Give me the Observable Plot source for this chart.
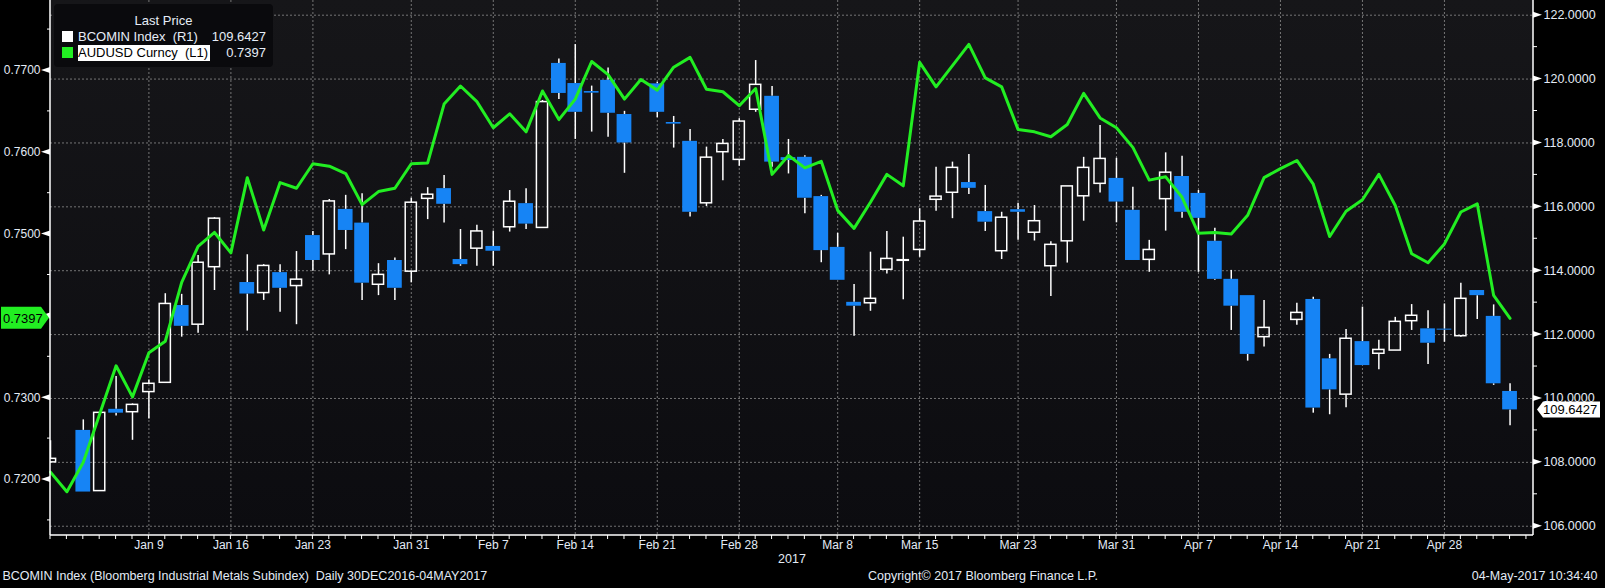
<!DOCTYPE html>
<html><head><meta charset="utf-8">
<script src="https://cdn.jsdelivr.net/npm/d3@7"></script>
<script src="https://cdn.jsdelivr.net/npm/@observablehq/plot@0.6"></script>
<style>
html,body{margin:0;padding:0;background:#000;}
#wrap{position:relative;width:1605px;height:588px;overflow:hidden;font-family:"Liberation Sans",Arial,sans-serif;}
#wrap svg{position:absolute;left:0;top:0;}
#legend{position:absolute;left:54px;top:4px;width:219px;height:63px;background:#0a0a0d;border-radius:4px;color:#e6edf7;font-size:13px;}
#legend .t{position:absolute;left:0;width:219px;top:9px;text-align:center;line-height:15px;}
#legend .sw{position:absolute;left:8px;width:11px;height:11px;}
#legend .nm{position:absolute;left:24px;line-height:16px;padding-right:2px;}
#legend .hl{background:#fff;color:#000;}
#legend .v{position:absolute;right:7px;line-height:16px;text-align:right;}
</style></head><body><div id="wrap"></div>
<script>
// ---- data ----
const firstDay = "2016-12-30", lastDay = "2017-05-04";
// BCOMIN Index daily OHLC (null = no trading)
const bcOpen  = [108.00,null,109.00,107.10,109.66,109.57,110.20,110.49,112.91,112.31,114.11,null,113.63,113.30,113.94,113.52,115.10,114.51,115.92,115.49,113.56,114.32,113.97,116.25,116.57,114.35,114.69,114.76,115.36,116.10,115.34,120.49,119.86,119.61,119.96,118.89,null,119.85,118.64,118.05,116.11,117.71,117.47,119.04,119.46,117.54,117.55,116.32,114.73,113.01,112.98,114.03,114.31,114.65,116.22,116.44,116.76,115.85,114.61,115.91,115.19,114.14,114.92,116.33,116.72,116.89,115.89,114.34,116.24,116.95,116.42,114.92,113.73,113.22,111.92,null,112.46,113.10,111.24,110.12,111.78,111.40,111.50,112.42,112.18,112.17,111.95,113.38,112.57,110.22];
const bcHigh  = [108.68,null,109.33,109.55,110.69,109.83,110.58,113.28,113.26,114.48,115.66,null,114.50,114.19,114.19,114.60,115.23,116.23,116.36,116.41,114.22,114.40,116.27,116.60,116.98,115.29,115.42,115.24,116.51,116.57,119.33,120.63,121.08,119.78,120.35,118.99,null,119.90,118.83,118.42,117.87,118.11,118.76,120.58,119.77,118.11,117.60,116.36,115.17,113.57,114.58,115.23,115.05,115.94,117.24,117.40,117.64,116.67,115.83,116.11,116.04,114.91,116.64,117.55,118.55,117.52,116.61,114.95,117.69,117.58,116.51,115.33,114.01,113.22,113.07,null,112.98,113.17,111.38,112.16,112.86,111.82,112.54,112.94,112.75,112.96,113.61,113.38,112.93,110.46];
const bcLow   = [107.98,null,107.07,107.10,109.45,108.69,109.36,110.49,111.92,112.04,113.38,null,112.11,113.07,112.70,112.31,113.98,113.87,114.66,113.07,113.22,113.07,113.62,115.60,115.49,114.14,114.14,114.14,115.21,115.29,115.34,119.36,118.11,118.34,118.18,117.05,null,118.79,117.84,115.68,116.01,116.82,117.27,118.96,117.24,117.03,115.78,114.25,113.70,111.95,112.73,113.90,113.09,114.42,115.86,115.63,116.39,115.23,114.35,114.95,114.93,113.19,114.24,115.55,116.43,115.50,114.32,113.95,115.24,115.64,113.95,113.70,112.13,111.17,111.61,null,112.29,109.54,109.49,109.71,111.03,110.90,111.50,112.13,111.06,111.76,111.92,112.47,110.41,109.15];
const bcClose = [108.11,null,107.07,109.55,109.54,109.80,110.46,112.96,112.26,114.25,115.63,null,113.27,114.15,113.45,113.72,114.32,116.17,115.26,113.61,113.87,113.45,116.13,116.38,116.08,114.19,115.23,114.61,116.16,115.46,119.28,119.55,118.96,119.56,118.93,118.00,null,118.96,118.59,115.83,117.54,117.97,118.67,119.82,117.40,117.45,116.27,114.63,113.70,112.89,113.12,114.37,114.33,115.54,116.32,117.22,116.58,115.52,115.66,115.83,115.55,114.81,116.64,117.22,117.50,116.15,114.32,114.65,117.07,115.83,115.64,113.73,112.89,111.38,112.21,null,112.68,109.70,110.27,111.87,111.03,111.52,112.40,112.59,111.73,112.14,113.12,113.22,110.46,109.6427];
// AUDUSD Curncy daily close
const audusd = [0.7209,0.7185,0.7221,0.7280,0.7339,0.7301,0.7355,0.7369,0.7441,0.7485,0.7502,0.7477,0.7569,0.7505,0.7563,0.7556,0.7586,0.7583,0.7574,0.7536,0.7552,0.7556,0.7586,0.7587,0.7659,0.7681,0.7662,0.7630,0.7647,0.7625,0.7675,0.7640,0.7665,0.7711,0.7695,0.7665,0.7689,0.7676,0.7704,0.7716,0.7677,0.7674,0.7657,0.7678,0.7573,0.7596,0.7581,0.7589,0.7529,0.7507,0.7539,0.7573,0.7559,0.7710,0.7680,0.7706,0.7732,0.7691,0.7680,0.7628,0.7625,0.7619,0.7634,0.7672,0.7642,0.7630,0.7606,0.7566,0.7570,0.7545,0.7501,0.7502,0.7500,0.7523,0.7569,0.7580,0.7590,0.7561,0.7497,0.7528,0.7542,0.7573,0.7535,0.7476,0.7465,0.7488,0.7527,0.7537,0.7425,0.7397];
// axis ticks
const labelDates = ["2017-01-09","2017-01-16","2017-01-23","2017-01-31","2017-02-07","2017-02-14","2017-02-21","2017-02-28","2017-03-08","2017-03-15","2017-03-23","2017-03-31","2017-04-07","2017-04-14","2017-04-21","2017-04-28"];
const rightMajor = [106,108,110,112,114,116,118,120,122];
const rightMinor = [107,109,111,113,115,117,119,121];
const leftMajor = [0.72,0.73,0.74,0.75,0.76,0.77];
const leftMinor = [0.715,0.725,0.735,0.745,0.755,0.765,0.775];
const yearLabel = "2017";
const footLeft = "BCOMIN Index (Bloomberg Industrial Metals Subindex)  Daily 30DEC2016-04MAY2017";
const footMid = "Copyright\u00A9 2017 Bloomberg Finance L.P.";
const footRight = "04-May-2017 10:34:40";

// ---- build ----
const days = d3.utcDay.range(new Date(firstDay), d3.utcDay.offset(new Date(lastDay), 1)).filter(d => d.getUTCDay() % 6 !== 0);
const idxOf = s => days.findIndex(d => +d === +new Date(s));
const labelIdx = labelDates.map(idxOf);
const fmtDay = d3.utcFormat("%b %-d");
// map left (AUDUSD) axis into right (BCOMIN) units
const toR = L => 120.2686 - (0.77 - L) * 256.11;
const fromR = r => (r - 120.2686) / 256.11 + 0.77;
const candles = days.map((d, i) => ({i, date: d, o: bcOpen[i], h: bcHigh[i], l: bcLow[i], c: bcClose[i]})).filter(d => d.o != null);
const up = candles.filter(d => d.c >= d.o), down = candles.filter(d => d.c < d.o);
const line = days.map((d, i) => ({i, v: audusd[i]}));
const lastL = audusd[audusd.length - 1];
const xMax = days.length + 0.43;
const yDom = [105.71, 122.46];
const BLUE = "#1684f5", GREEN = "#22ee22", TXT = "#e3ebf5", GRID = "#8c8c8c";
// the left label hidden behind the last-value flag is not shown
const leftLabels = leftMajor.filter(v => Math.abs(v - lastL) > 0.0015);

const bg = (index, scales, values, dim) => {
  const g = d3.create("svg:g");
  const gr = g.append("defs").append("linearGradient").attr("id","bgGrad").attr("x1",0).attr("y1",0).attr("x2",0).attr("y2",1);
  gr.append("stop").attr("offset","0%").attr("stop-color","#161619");
  gr.append("stop").attr("offset","100%").attr("stop-color","#0c0c10");
  g.append("rect").attr("x", dim.marginLeft).attr("y", dim.marginTop)
    .attr("width", dim.width - dim.marginLeft - dim.marginRight)
    .attr("height", dim.height - dim.marginTop - dim.marginBottom).attr("fill","url(#bgGrad)");
  return g.node();
};

const decor = (index, scales, values, dim) => {
  const x = scales.x, y = scales.y;
  const g = d3.create("svg:g").attr("text-anchor", "start");
  const x0 = x(0), x1 = x(xMax), yb = y(yDom[0]), yt = y(yDom[1]);
  g.append("line").attr("x1",x0).attr("x2",x0).attr("y1",yt).attr("y2",yb).attr("stroke","#fff").attr("stroke-width",1.5);
  g.append("line").attr("x1",x1).attr("x2",x1).attr("y1",yt).attr("y2",yb).attr("stroke","#fff").attr("stroke-width",1.5);
  g.append("line").attr("x1",x0).attr("x2",x1).attr("y1",yb).attr("y2",yb).attr("stroke","#fff").attr("stroke-width",1.5);
  for (let i = 0; i <= days.length; i++) g.append("line").attr("x1",x(i)).attr("x2",x(i)).attr("y1",yb).attr("y2",yb+4).attr("stroke","#fff");
  rightMinor.forEach(v => g.append("line").attr("x1",x1).attr("x2",x1+4).attr("y1",y(v)).attr("y2",y(v)).attr("stroke","#fff"));
  rightMajor.forEach(v => g.append("path").attr("d",`M${x1},${y(v)-3}L${x1+9},${y(v)}L${x1},${y(v)+3}Z`).attr("fill","#fff"));
  leftMinor.forEach(v => g.append("line").attr("x1",x0-3).attr("x2",x0).attr("y1",y(toR(v))).attr("y2",y(toR(v))).attr("stroke","#fff"));
  leftMajor.forEach(v => g.append("path").attr("d",`M${x0},${y(toR(v))-3}L${x0-9},${y(toR(v))}L${x0},${y(toR(v))+3}Z`).attr("fill","#fff"));
  const last = candles[candles.length-1].c, yr = y(last);
  g.append("path").attr("d",`M${x1+4},${yr}L${x1+10},${yr-8}H1600V${yr+8}H${x1+10}Z`).attr("fill","#fff");
  g.append("text").attr("x",x1+10).attr("y",yr).attr("dy","0.36em").attr("fill","#000").attr("font-size",13).text(last.toFixed(4));
  const yl = y(toR(lastL));
  g.append("path").attr("d",`M1,${yl-11}H${x0-9}L${x0-1},${yl}L${x0-9},${yl+11}H1Z`).attr("fill",GREEN);
  g.append("text").attr("x",3).attr("y",yl).attr("dy","0.36em").attr("fill","#000").attr("font-size",13).text(lastL.toFixed(4));
  return g.node();
};

const chart = Plot.plot({
  width: 1605, height: 588,
  marginLeft: 50, marginRight: 72, marginTop: 0, marginBottom: 53,
  style: {background: "#000", color: TXT, fontFamily: '"Liberation Sans", Arial, sans-serif', fontSize: "12px", overflow: "visible"},
  x: {type: "linear", domain: [0, xMax], axis: null},
  y: {type: "linear", domain: yDom, axis: null},
  marks: [
    bg,
    Plot.ruleY(rightMajor, {stroke: GRID, strokeDasharray: "2,2", strokeOpacity: 0.8}),
    Plot.ruleX(labelIdx, {stroke: GRID, strokeDasharray: "2,2", strokeOpacity: 0.8}),
    Plot.ruleX(candles, {x: "i", y1: "h", y2: d => Math.max(d.o, d.c), stroke: "#fff", strokeWidth: 1.5, clip: true}),
    Plot.ruleX(candles, {x: "i", y1: "l", y2: d => Math.min(d.o, d.c), stroke: "#fff", strokeWidth: 1.5, clip: true}),
    Plot.rect(down, {x1: d => d.i - 0.45, x2: d => d.i + 0.45, y1: "o", y2: "c", fill: BLUE, clip: true}),
    Plot.rect(up, {x1: d => d.i - 0.34, x2: d => d.i + 0.34, y1: "o", y2: "c", fill: "none", stroke: "#fff", strokeWidth: 1.5, clip: true}),
    Plot.line(line, {x: "i", y: d => toR(d.v), stroke: GREEN, strokeWidth: 3, strokeLinejoin: "round"}),
    Plot.axisY(rightMajor, {anchor: "right", tickSize: 0, tickPadding: 10, tickFormat: d => d.toFixed(4), fontSize: 12.5, color: TXT, label: null}),
    Plot.axisY(leftLabels.map(toR), {anchor: "left", tickSize: 0, tickPadding: 10, tickFormat: r => fromR(r).toFixed(4), fontSize: 12, color: TXT, label: null}),
    Plot.axisX(labelIdx, {anchor: "bottom", tickSize: 0, tickPadding: 5, tickFormat: i => fmtDay(days[i]), fontSize: 12, color: TXT, label: null}),
    Plot.text([yearLabel], {frameAnchor: "bottom", dy: 27, text: d => d, fill: TXT, fontSize: 12.5}),
    Plot.text([footLeft], {frameAnchor: "bottom-left", dx: -48, dy: 44, textAnchor: "start", text: d => d, fill: TXT, fontSize: 12.5}),
    Plot.text([footMid], {frameAnchor: "bottom", dx: 191, dy: 44, text: d => d, fill: TXT, fontSize: 12.5}),
    Plot.text([footRight], {frameAnchor: "bottom-right", dx: 64, dy: 44, textAnchor: "end", text: d => d, fill: TXT, fontSize: 12.5}),
    decor
  ]
});
const wrap = document.getElementById("wrap");
wrap.appendChild(chart);

const lg = document.createElement("div");
lg.id = "legend";
lg.innerHTML = `<div class="t">Last Price</div>
<div class="sw" style="top:27px;background:#fff"></div><div class="nm" style="top:25px">BCOMIN Index&nbsp;&nbsp;(R1)</div><div class="v" style="top:25px">${bcClose[bcClose.length-1].toFixed(4)}</div>
<div class="sw" style="top:43px;background:${GREEN}"></div><div class="nm hl" style="top:41px">AUDUSD Curncy&nbsp;&nbsp;(L1)</div><div class="v" style="top:41px">${lastL.toFixed(4)}</div>`;
wrap.appendChild(lg);
</script></body></html>
